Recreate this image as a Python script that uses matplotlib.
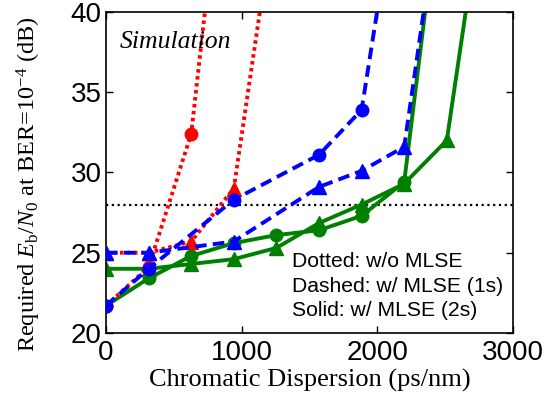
import matplotlib
matplotlib.use("Agg")
import matplotlib.pyplot as plt
import numpy as np

plt.rcParams['mathtext.fontset'] = 'custom'
plt.rcParams['mathtext.rm'] = 'Liberation Serif'
plt.rcParams['mathtext.it'] = 'Liberation Serif:italic'

# data (ps/nm, dB)
red_circ_x = [0, 314, 628, 942]
red_circ_y = [21.7, 24.1, 32.4, 56.0]
red_tri_x = [0, 314, 628, 942, 1256]
red_tri_y = [25.0, 25.0, 25.7, 29.0, 47.0]

blue_circ_x = [0, 314, 942, 1570, 1884, 2198]
blue_circ_y = [21.7, 24.0, 28.3, 31.1, 33.9, 50.7]
blue_tri_x = [0, 314, 942, 1570, 1884, 2198, 2512]
blue_tri_y = [25.0, 25.0, 25.7, 29.1, 30.1, 31.6, 50.0]

green_circ_x = [0, 314, 628, 942, 1256, 1570, 1884, 2198, 2512]
green_circ_y = [21.7, 23.4, 24.8, 25.6, 26.1, 26.4, 27.3, 29.4, 51.0]
green_tri_x = [0, 314, 628, 942, 1256, 1570, 1884, 2198, 2512, 2826]
green_tri_y = [24.0, 24.0, 24.3, 24.6, 25.3, 26.85, 28.0, 29.3, 32.0, 50.0]

threshold = 28.0
legend_lines = ["Dotted: w/o MLSE", "Dashed: w/ MLSE (1s)", "Solid: w/ MLSE (2s)"]

fig = plt.figure(figsize=(5.54, 4.05), dpi=100)
ax = fig.add_axes([0.1913, 0.1778, 0.7347, 0.7926])

lw = 2.8
ms = 9
ax.axhline(threshold, color='black', linestyle=(0, (1, 1.6)), linewidth=1.6, zorder=1)

ax.plot(green_circ_x, green_circ_y, '-', color='#008000', lw=lw, marker='o', ms=ms, zorder=2)
ax.plot(green_tri_x, green_tri_y, '-', color='#008000', lw=lw, marker='^', ms=ms+1, zorder=2)
ax.plot(red_circ_x, red_circ_y, color='red', lw=lw, linestyle=(0, (0.9, 0.9)), marker='o', ms=ms, zorder=3)
ax.plot(red_tri_x, red_tri_y, color='red', lw=lw, linestyle=(0, (0.9, 0.9)), marker='^', ms=ms+1, zorder=3)
ax.plot(blue_circ_x, blue_circ_y, color='blue', lw=lw, linestyle=(0, (3.0, 1.6)), marker='o', ms=ms, zorder=4)
ax.plot(blue_tri_x, blue_tri_y, color='blue', lw=lw, linestyle=(0, (3.0, 1.6)), marker='^', ms=ms+1, zorder=4)

ax.set_xlim(0, 3000)
ax.set_ylim(20, 40)
ax.set_xticks([0, 1000, 2000, 3000])
ax.set_yticks([20, 25, 30, 35, 40])
ax.tick_params(direction='in', top=True, right=True, length=5, width=1,
               labelsize=20)
ax.tick_params(axis='x', pad=5)
ax.tick_params(axis='y', pad=3)
for lab in ax.get_xticklabels() + ax.get_yticklabels():
    lab.set_family('Liberation Sans')
for s in ax.spines.values():
    s.set_linewidth(1.2)

ax.set_xlabel('Chromatic Dispersion (ps/nm)', family='Liberation Serif', fontsize=19, labelpad=2)
ax.set_ylabel(r'Required $E_{\mathrm{b}}/N_0$ at BER=10$^{-4}$ (dB)', family='Liberation Serif',
              fontsize=17.5)
ax.yaxis.set_label_coords(-0.155, 0.464)

ax.text(103, 38.15, 'Simulation', family='Liberation Serif', style='italic', fontsize=18.5,
        va='center', ha='left')
for i, t in enumerate(legend_lines):
    ax.text(1368, [24.45, 22.9, 21.42][i], t, family='Liberation Sans', fontsize=15.2,
            va='center', ha='left')

fig.savefig('out.png', dpi=100)
